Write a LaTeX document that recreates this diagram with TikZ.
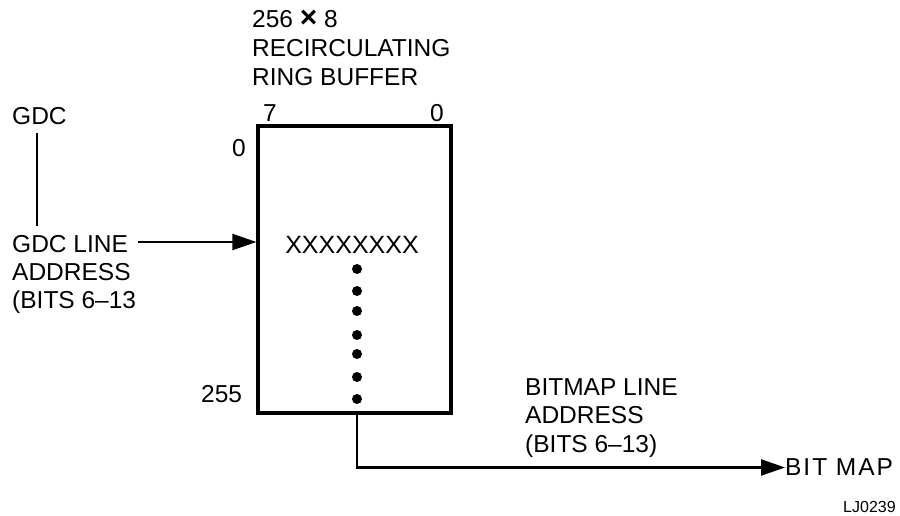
\documentclass[tikz,border=0pt]{standalone}
\usepackage{fontspec}
\setmainfont{Liberation Sans}
\usetikzlibrary{arrows.meta}
\begin{document}
\begin{tikzpicture}[x=1pt,y=-1pt,
  lbl/.style={inner sep=0pt,anchor=base west,font=\fontsize{24.5}{28}\selectfont},
  small/.style={inner sep=0pt,anchor=base west,font=\fontsize{16}{18}\selectfont},
  wire/.style={line width=2.2pt},
  arr/.style={wire,-{Triangle[length=24pt,width=16pt]}},
  dot/.style={circle,fill=black,inner sep=0pt,minimum size=10pt}]
\useasboundingbox (0,0) rectangle (900,516);
% buffer box
\node[draw,line width=3.2pt,minimum width=193pt,minimum height=287pt,inner sep=0pt] (box) at (354.5,269.5) {};
% title
\node[lbl] (t1) at (252,28) {256 {\fontsize{30}{30}\selectfont\bfseries ×} 8};
\node[lbl] (t2) at (252,57) {RECIRCULATING};
\node[lbl] (t3) at (252,86) {RING BUFFER};
\node[lbl] (b7) at (263,122) {7};
\node[lbl] (b0) at (430,122) {0};
\node[lbl] (r0) at (232,157) {0};
\node[lbl] (r255) at (201,402) {255};
% GDC
\node[lbl] (gdc) at (12,125) {GDC};
\coordinate (g1) at (37,133);
\coordinate (g2) at (37,226);
\draw[wire] (g1) -- (g2);
\node[lbl] (gl1) at (12,252) {GDC LINE};
\node[lbl] (gl2) at (12,280) {ADDRESS};
\node[lbl] (gl3) at (12,308) {(BITS 6--13};
\coordinate (a1) at (138,242);
\draw[arr] (a1) -- (box.west |- a1);
% contents
\node[inner sep=0pt,anchor=base,font=\fontsize{25}{28}\selectfont] (xx) at (352,253) {XXXXXXXX};
\foreach \i/\y in {1/269,2/291,3/311,4/335,5/354,6/377,7/399}
  \node[dot] (d\i) at (357,\y) {};
% output
\node[lbl] (bl1) at (525,395) {BITMAP LINE};
\node[lbl] (bl2) at (525,423) {ADDRESS};
\node[lbl] (bl3) at (525,452) {(BITS 6--13)};
\node[inner sep=0pt,anchor=west,font=\fontsize{24.5}{28}\selectfont\addfontfeature{LetterSpace=8}] (bitmap) at (785,467.5) {BIT MAP};
\draw[arr] (box.south -| d7) |- (bitmap.west);
\node[small] (lj) at (843,512) {LJ0239};
\end{tikzpicture}
\end{document}
